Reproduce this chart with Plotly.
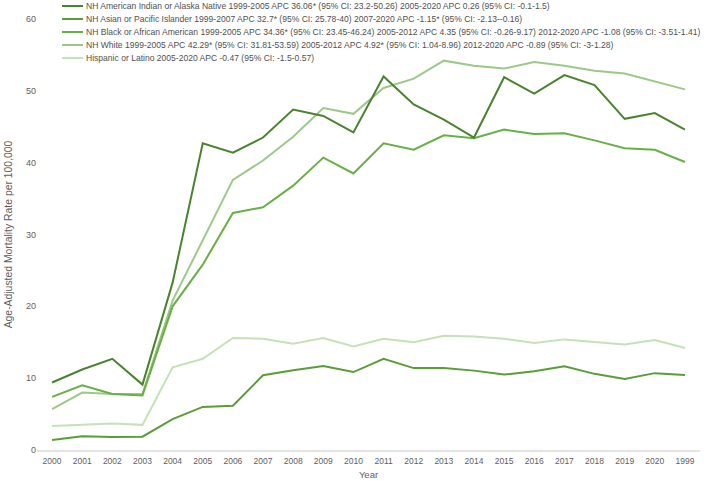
import plotly.graph_objects as go

years = ["2000", "2001", "2002", "2003", "2004", "2005", "2006", "2007", "2008", "2009", "2010",
         "2011", "2012", "2013", "2014", "2015", "2016", "2017", "2018", "2019", "2020", "1999"]

ai_an = [9.4, 11.2, 12.7, 9.1, 23.3, 42.7, 41.4, 43.5, 47.4, 46.5, 44.2,
         52.0, 48.1, 46.0, 43.5, 51.9, 49.6, 52.2, 50.8, 46.1, 46.9, 44.6]
asian_pi = [1.4, 1.9, 1.8, 1.85, 4.3, 6.0, 6.15, 10.4, 11.1, 11.7, 10.85,
            12.7, 11.4, 11.4, 11.05, 10.5, 10.95, 11.65, 10.6, 9.9, 10.7, 10.45]
black_aa = [7.4, 9.0, 7.8, 7.6, 20.0, 25.8, 33.0, 33.8, 36.8, 40.7, 38.5,
            42.7, 41.8, 43.8, 43.4, 44.6, 44.0, 44.1, 43.1, 42.0, 41.8, 40.1]
white = [5.7, 8.0, 7.8, 7.8, 20.8, 29.2, 37.6, 40.3, 43.6, 47.6, 46.8,
         50.4, 51.7, 54.2, 53.5, 53.1, 54.0, 53.5, 52.8, 52.4, 51.3, 50.2]
hispanic = [3.35, 3.5, 3.7, 3.5, 11.5, 12.7, 15.6, 15.5, 14.8, 15.6, 14.4,
            15.5, 15.0, 15.9, 15.8, 15.5, 14.9, 15.4, 15.0, 14.7, 15.3, 14.2]

names = [
    "NH American Indian or Alaska Native 1999-2005 APC 36.06* (95% CI: 23.2-50.26) 2005-2020 APC 0.26 (95% CI: -0.1-1.5)",
    "NH Asian or Pacific Islander 1999-2007 APC 32.7* (95% CI: 25.78-40) 2007-2020 APC -1.15* (95% CI: -2.13--0.16)",
    "NH Black or African American 1999-2005 APC 34.36* (95% CI: 23.45-46.24) 2005-2012 APC 4.35 (95% CI: -0.26-9.17) 2012-2020 APC -1.08 (95% CI: -3.51-1.41)",
    "NH White 1999-2005 APC 42.29* (95% CI: 31.81-53.59) 2005-2012 APC 4.92* (95% CI: 1.04-8.96) 2012-2020 APC -0.89 (95% CI: -3-1.28)",
    "Hispanic or Latino 2005-2020 APC -0.47 (95% CI: -1.5-0.57)",
]
series = [ai_an, asian_pi, black_aa, white, hispanic]
colors = ["#4a8230", "#5a9c38", "#68af46", "#9cc888", "#c6e0b8"]

FONT = "Liberation Sans, Arial, sans-serif"

fig = go.Figure()
# draw lightest first so darker lines sit on top
for name, vals, col in reversed(list(zip(names, series, colors))):
    fig.add_trace(go.Scatter(x=years, y=vals, mode="lines", name=name,
                             line=dict(color=col, width=2), showlegend=False))

# custom compact legend (annotations + short line shapes)
W, H = 708, 481
ml, mr, mt, mb = 37, 8, 19, 31
pw, ph = W - ml - mr, H - mt - mb
def px2paper_x(px):
    return (px - ml) / pw
def py2paper_y(py):
    return (H - mb - py) / ph

row_y = [6, 19, 32, 45, 58]
for name, col, ry in zip(names, colors, row_y):
    yy = py2paper_y(ry)
    fig.add_shape(type="line", xref="paper", yref="paper",
                  x0=px2paper_x(62), x1=px2paper_x(83), y0=yy, y1=yy,
                  line=dict(color=col, width=2))
    fig.add_annotation(xref="paper", yref="paper", x=px2paper_x(84), y=yy,
                       xanchor="left", yanchor="middle", text=name, showarrow=False,
                       font=dict(family=FONT, size=8.55, color="#505050"))

fig.update_layout(
    width=W, height=H,
    margin=dict(l=ml, r=mr, t=mt, b=mb),
    paper_bgcolor="white", plot_bgcolor="white",
    font=dict(family=FONT, size=9, color="#666666"),
)
fig.update_xaxes(type="category", categoryorder="array", categoryarray=years, automargin=False,
                 range=[-0.5, len(years) - 0.5],
                 showgrid=False, zeroline=False, showline=True, linecolor="#e4e4e4", linewidth=1.5,
                 ticks="", ticklabelstandoff=2, tickfont=dict(size=8.5, color="#5e5e5e"),
                 title=dict(text="Year", font=dict(size=9.5, color="#5e5e5e"), standoff=6))
fig.update_yaxes(range=[0, 60], dtick=10, automargin=False,
                 showgrid=False, zeroline=False, showline=False,
                 ticks="", tickfont=dict(size=9, color="#5e5e5e"),
                 title=dict(text="Age-Adjusted Mortality Rate per 100,000",
                            font=dict(size=10.4, color="#5e5e5e"), standoff=11))

fig.write_html("out.html")
